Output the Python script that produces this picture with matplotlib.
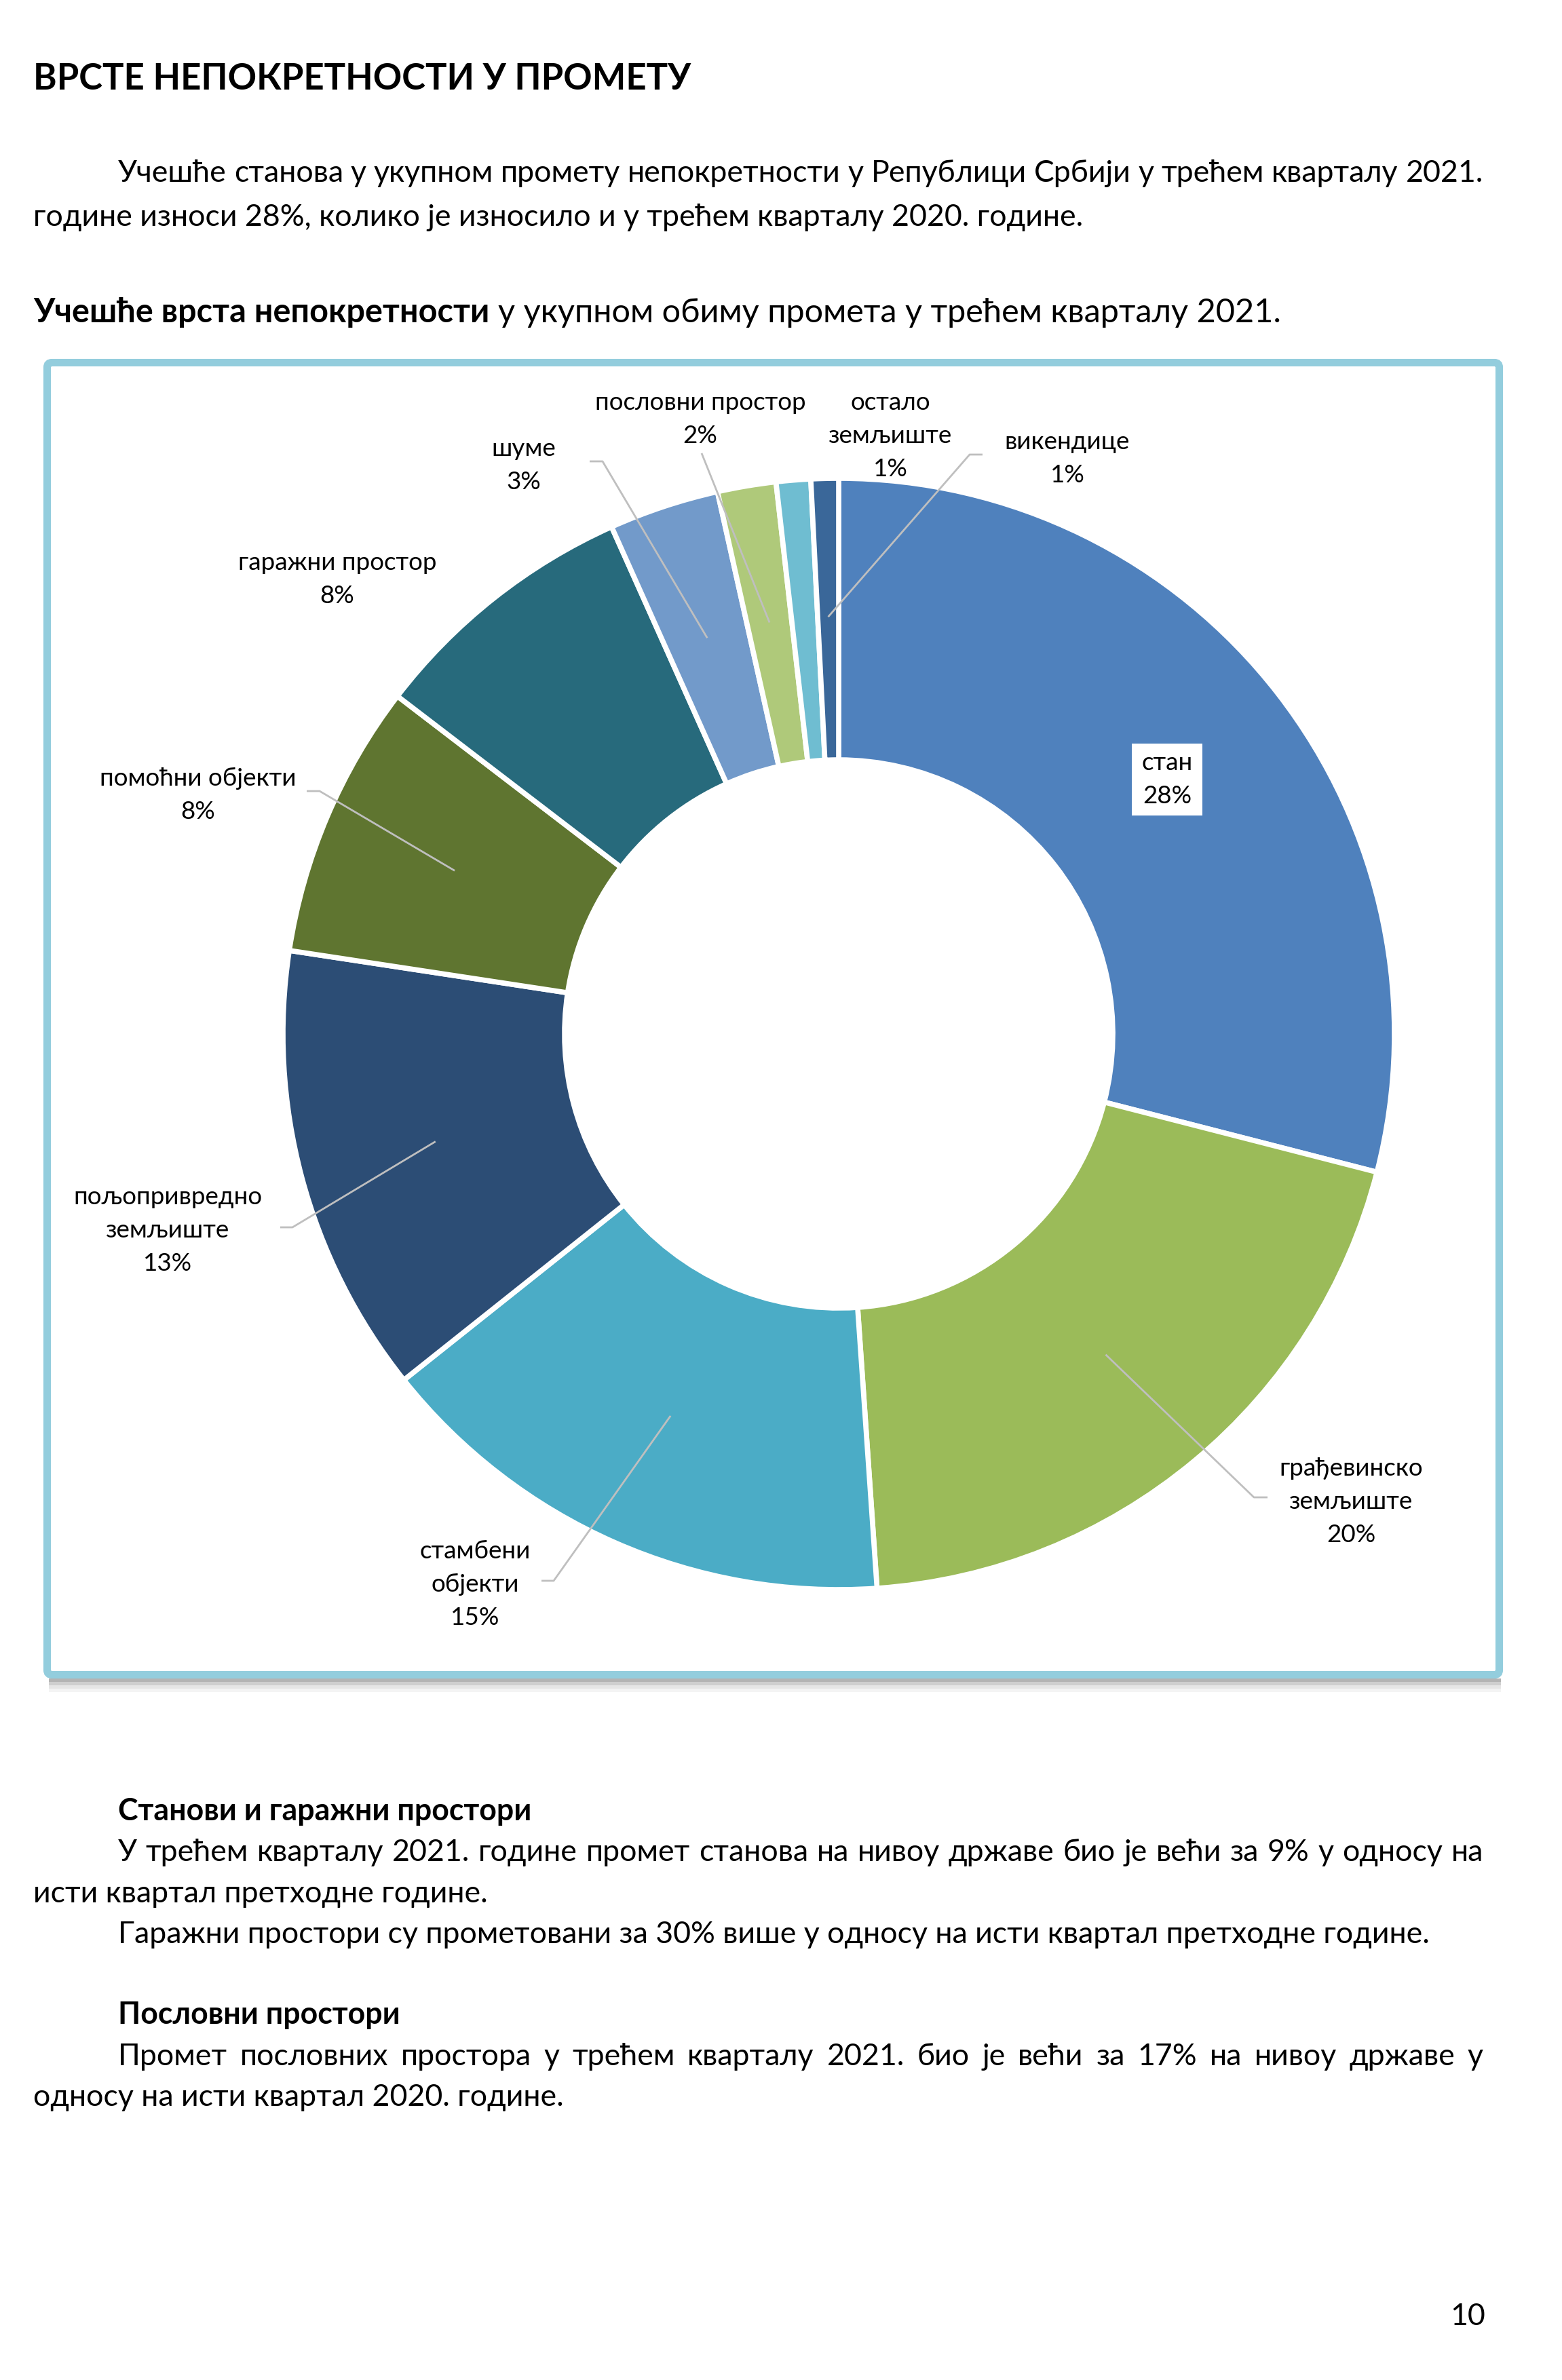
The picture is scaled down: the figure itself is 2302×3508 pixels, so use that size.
import numpy as np
import matplotlib
matplotlib.use("Agg")
import matplotlib.pyplot as plt
from matplotlib import font_manager as fm
from matplotlib.ft2font import FT2Font
from matplotlib.patches import FancyBboxPatch, Rectangle

# data (shares of total turnover, %)
names = ['стан', 'грађевинско\nземљиште', 'стамбени\nобјекти', 'пољопривредно\nземљиште',
         'помоћни објекти', 'гаражни простор', 'шуме', 'пословни простор',
         'остало\nземљиште', 'викендице']
shares = [29.0, 19.9, 15.4, 13.1, 8.0, 7.9, 3.2, 1.7, 1.0, 0.8]
pct_labels = [28, 20, 15, 13, 8, 8, 3, 2, 1, 1]
colors = ['#4F81BD', '#9BBB59', '#4BACC6', '#2C4D75', '#5F7530',
          '#276A7C', '#729ACA', '#AFC97A', '#6FBDD1', '#3A6799']

title = 'ВРСТЕ НЕПОКРЕТНОСТИ У ПРОМЕТУ'
para1 = ['Учешће станова у укупном промету непокретности у Републици Србији у трећем кварталу 2021.',
         'године износи 28%, колико је износило и у трећем кварталу 2020. године.']
chart_title_bold = 'Учешће врста непокретности'
chart_title_rest = 'у укупном обиму промета у трећем кварталу 2021.'
head1 = 'Станови и гаражни простори'
para2 = ['У трећем кварталу 2021. године промет станова на нивоу државе био је већи за 9% у односу на',
         'исти квартал претходне године.',
         'Гаражни простори су прометовани за 30% више у односу на исти квартал претходне године.']
head2 = 'Пословни простори'
para3 = ['Промет пословних простора у трећем кварталу 2021. био је већи за 17% на нивоу државе у',
         'односу на исти квартал 2020. године.']
page_no = '10'


def has_cyr(name):
    try:
        path = fm.findfont(name, fallback_to_default=False)
        return 0x045B in FT2Font(path).get_charmap()
    except Exception:
        return False


family = 'Lato' if has_cyr('Lato') else 'Open Sans'
plt.rcParams['font.family'] = [family, 'DejaVu Sans']

W, H = 2302, 3508
fig = plt.figure(figsize=(W / 100, H / 100), dpi=100)
ax = fig.add_axes([0, 0, 1, 1])
r = fig.canvas.get_renderer()


def width_of(s, size, weight='normal'):
    t = ax.text(0, 0, s, fontsize=size, fontweight=weight)
    w = t.get_window_extent(r).width
    t.remove()
    return w


body = 30 * 1931 / width_of(para2[2], 30)
tsize = 40 * 969 / width_of(title, 40, 'bold')
lsize = 27 * 278 / width_of('пољопривредно', 27)
csize = body * 1.087


def line(s, x0, y, x1=None, weight='normal', size=None):
    size = size or body
    if x1 is None:
        return ax.text(x0, y, s, fontsize=size, fontweight=weight, va='baseline', ha='left')
    words = s.split(' ')
    items = [ax.text(0, y, w, fontsize=size, fontweight=weight, va='baseline', ha='left') for w in words]
    widths = [t.get_window_extent(r).width for t in items]
    gap = (x1 - x0 - sum(widths)) / (len(words) - 1)
    x = x0
    for t, w in zip(items, widths):
        t.set_x(x)
        x += w + gap


# chart frame with soft shadow
for k, c in enumerate(['#B4B4B4', '#CFCFCF', '#E6E6E6', '#F4F4F4']):
    ax.add_patch(Rectangle((72, 2474 + 5 * k), 2140, 5, color=c, lw=0, zorder=1))
ax.add_patch(FancyBboxPatch((69.5, 534.5), 2140, 1934, boxstyle='round,pad=0,rounding_size=7',
                            facecolor='white', edgecolor='#93CDDD', lw=8, zorder=2))

# donut
cx, cy = 1236, 1524
wedges, _ = ax.pie(shares, colors=colors, startangle=-90, counterclock=True,
                   center=(cx, cy), radius=819,
                   wedgeprops=dict(width=415, edgecolor='white', linewidth=5.5))
for w in wedges:
    w.set_zorder(3)

ax.set_xlim(0, W)
ax.set_ylim(H, 0)
ax.set_aspect('auto')
ax.axis('off')

# page text
ax.text(49, 132, title, fontsize=tsize, fontweight='bold', va='baseline')
line(para1[0], 174, 268, x1=2186)
line(para1[1], 49, 333)
tb = line(chart_title_bold, 49, 475, weight='bold', size=csize)
bw = tb.get_window_extent(r).width
line(chart_title_rest, 49 + bw + width_of('a a', csize) - width_of('aa', csize), 475, size=csize)

line(head1, 174, 2683, weight='bold')
line(para2[0], 174, 2743, x1=2186)
line(para2[1], 49, 2804)
line(para2[2], 174, 2864)
line(head2, 174, 2983, weight='bold')
line(para3[0], 174, 3044, x1=2186)
line(para3[1], 49, 3104)
ax.text(2189, 3427, page_no, fontsize=body, ha='right', va='baseline')

# labels
label_pos = [(1720, 1135), (1991, 2175), (700, 2297), (247, 1775), (292, 1158),
             (497, 840), (772, 672), (1032, 604), (1312, 604), (1573, 662)]
leaders = {1: [(1868, 2207), (1848, 2207)], 2: [(798, 2330), (816, 2330)],
           3: [(413, 1809), (431, 1809)], 4: [(452, 1166), (471, 1166)],
           6: [(869, 680), (888, 680)], 7: [(1034, 668)],
           9: [(1448, 670), (1429, 670)]}

total = sum(shares)
cum = np.cumsum([0] + shares)
for i, nm in enumerate(names):
    rows = nm.split('\n') + ['%d%%' % pct_labels[i]]
    lx, ly = label_pos[i]
    texts = [ax.text(lx, ly + 49 * j, s, fontsize=lsize, ha='center', va='baseline', zorder=6)
             for j, s in enumerate(rows)]
    if i == 0:
        inv = ax.transData.inverted()
        ext = [inv.transform(t.get_window_extent(r).get_points()) for t in texts]
        x0 = min(e[:, 0].min() for e in ext) - 14
        x1 = max(e[:, 0].max() for e in ext) + 14
        y0 = min(e[:, 1].min() for e in ext) - 12
        y1 = max(e[:, 1].max() for e in ext) + 12
        ax.add_patch(Rectangle((x0, y0), x1 - x0, y1 - y0, facecolor='white', lw=0, zorder=5))
    if i in leaders:
        th = 2 * np.pi * (cum[i] + shares[i] / 2) / total
        pts = leaders[i] + [(cx + 615 * np.sin(th), cy - 615 * np.cos(th))]
        ax.plot([p[0] for p in pts], [p[1] for p in pts], color='#BFBFBF', lw=2, zorder=4,
                solid_capstyle='butt')

ax.set_xlim(0, W)
ax.set_ylim(H, 0)
fig.savefig('out.png', dpi=100, facecolor='white')
